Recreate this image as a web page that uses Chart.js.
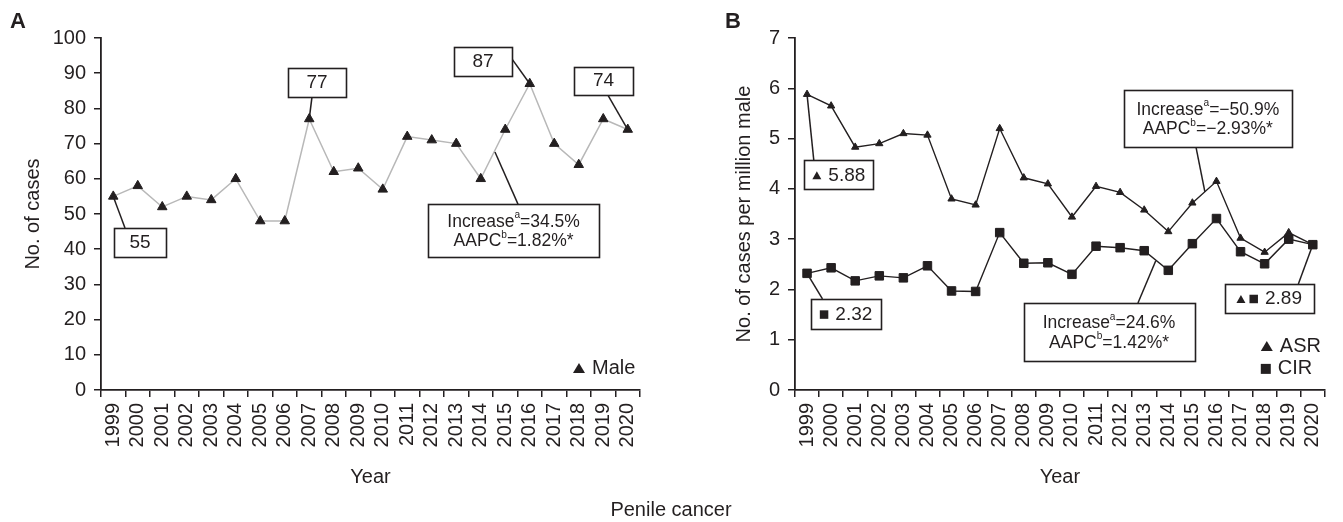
<!DOCTYPE html>
<html><head><meta charset="utf-8">
<script src="https://cdn.jsdelivr.net/npm/chart.js@4.4.1/dist/chart.umd.min.js"></script>
<style>
html,body{margin:0;padding:0;background:#fff;}
#wrap{position:relative;width:1343px;height:522px;overflow:hidden;background:#fff;}
canvas{position:absolute;left:0;top:0;}
</style></head><body>
<div id="wrap"><canvas id="cA" width="1343" height="522"></canvas><canvas id="cB" width="1343" height="522"></canvas></div>
<script>
// ---- data ----
const years = ['1999','2000','2001','2002','2003','2004','2005','2006','2007','2008','2009','2010','2011','2012','2013','2014','2015','2016','2017','2018','2019','2020'];
const maleCases = [55,58,52,55,54,60,48,48,77,62,63,57,72,71,70,60,74,87,70,64,77,74];
const asrRates = [5.88,5.65,4.83,4.90,5.10,5.07,3.80,3.68,5.20,4.22,4.10,3.44,4.05,3.93,3.58,3.15,3.72,4.15,3.02,2.74,3.13,2.89];
const cirRates = [2.32,2.43,2.17,2.27,2.23,2.47,1.97,1.96,3.13,2.52,2.53,2.30,2.86,2.83,2.77,2.38,2.91,3.41,2.75,2.51,3.00,2.89];
const seriesNames = ['Male','ASR','CIR'];
const trendA = ['=34.5%','=1.82%*'];
const trendASR = ['=\u221250.9%','=\u22122.93%*'];
const trendCIR = ['=24.6%','=1.42%*'];

// ---- styling ----
const INK = '#231f20';
const FAM = "'Liberation Sans', Arial, sans-serif";
Chart.defaults.font.family = FAM;
Chart.defaults.color = INK;

function scalesFor(yMax, step, yTitle, yWidth, yTitlePad){
  return {
    x:{type:'category', offset:true,
      grid:{display:true, offset:true, drawOnChartArea:false, drawTicks:true, tickLength:7, color:INK, lineWidth:1.5},
      border:{display:true, color:INK, width:1.8},
      ticks:{autoSkip:false, maxRotation:90, minRotation:90, padding:6, font:{size:20}, color:INK},
      title:{display:true, text:'Year', font:{size:20}, color:INK, padding:{top:0, bottom:33}},
      afterFit(s){ s.height = 132; }
    },
    y:{min:0, max:yMax,
      ticks:{stepSize:step, padding:8, font:{size:20}, color:INK},
      grid:{drawOnChartArea:false, drawTicks:true, tickLength:7, color:INK, lineWidth:1.5},
      border:{display:true, color:INK, width:1.8},
      title:{display:true, text:yTitle, font:{size:20}, color:INK, padding:{top:yTitlePad, bottom:0}},
      afterFit(s){ s.width = yWidth; }
    }
  };
}

function shapePath(ctx, kind, x, y, w, h){
  ctx.beginPath();
  if(kind==='tri'){ ctx.moveTo(x, y-h/2); ctx.lineTo(x+w/2, y+h/2); ctx.lineTo(x-w/2, y+h/2); ctx.closePath(); }
  else { ctx.rect(x-w/2, y-h/2, w, h); }
  ctx.fillStyle = INK; ctx.fill();
}

function segWidth(ctx, segs, fs){
  let w = 0;
  segs.forEach((s, k)=>{
    if(s.shape){ w += s.w + (segs[k+1] && segs[k+1].shape ? 4 : 7); }
    else { ctx.font = (s.sup ? fs*0.58 : fs) + 'px ' + FAM; w += ctx.measureText(s.t).width; }
  });
  return w;
}
function drawSegs(ctx, segs, x, y, fs){
  let cx = x;
  segs.forEach((s, k)=>{
    if(s.shape){ shapePath(ctx, s.shape, cx + s.w/2, y, s.w, s.h); cx += s.w + (segs[k+1] && segs[k+1].shape ? 4 : 7); }
    else {
      ctx.font = (s.sup ? fs*0.58 : fs) + 'px ' + FAM;
      ctx.fillStyle = INK; ctx.textAlign = 'left'; ctx.textBaseline = 'middle';
      ctx.fillText(s.t, cx, s.sup ? y - fs*0.36 : y);
      cx += ctx.measureText(s.t).width;
    }
  });
}

function notesPlugin(cfg){
  return {
    id:'notes_' + cfg.id,
    afterDraw(chart){
      const ctx = chart.ctx, xs = chart.scales.x, ys = chart.scales.y;
      const P = (i, v) => ({x: xs.getPixelForValue(i), y: ys.getPixelForValue(v)});
      ctx.save();
      cfg.notes.forEach(n=>{
        const a = P(n.from[0], n.from[1]), b = P(n.to[0], n.to[1]);
        ctx.beginPath(); ctx.moveTo(a.x, a.y); ctx.lineTo(b.x, b.y);
        ctx.strokeStyle = INK; ctx.lineWidth = 1.5; ctx.stroke();
      });
      cfg.notes.forEach(n=>{
        const c = P(n.cx, n.cy);
        const l = Math.round(c.x - n.w/2) + 0.5, t = Math.round(c.y - n.h/2) + 0.5;
        ctx.fillStyle = '#fff'; ctx.fillRect(l, t, n.w, n.h);
        ctx.strokeStyle = INK; ctx.lineWidth = 1.6; ctx.strokeRect(l, t, n.w, n.h);
        const fs = n.fs || 19;
        const gap = n.rows.length > 1 ? 19.5 : 0;
        n.rows.forEach((r, k)=>{
          const w = segWidth(ctx, r, fs);
          const yy = c.y + (k - (n.rows.length-1)/2) * gap + (n.rows.length > 1 ? 1 : 0.5);
          drawSegs(ctx, r, c.x - w/2, yy, fs);
        });
      });
      cfg.legend.forEach(g=>{
        const c = P(g.i, g.v);
        drawSegs(ctx, [{shape:g.shape, w:g.shape==='tri'?12:10, h:g.shape==='tri'?10:10}, {t:g.t}], c.x - 6, c.y, 20);
      });
      (cfg.texts || []).forEach(tx=>{
        ctx.font = tx.font; ctx.fillStyle = INK; ctx.textAlign = 'center'; ctx.textBaseline = 'middle';
        ctx.fillText(tx.t, tx.x, tx.y);
      });
      ctx.restore();
    }
  };
}

const TRI = {shape:'tri', w:9, h:8}, SQ = {shape:'sq', w:8.5, h:8.5};
const sup = s => ({t:s, sup:true});

const cfgA = {
  id:'A',
  notes:[
    {rows:[[{t:String(maleCases[0])}]], cx:1.09, cy:41.9, w:52, h:29, from:[0, maleCases[0]], to:[0.48, 46.0]},
    {rows:[[{t:String(maleCases[8])}]], cx:8.32, cy:87.4, w:58, h:29, from:[8, maleCases[8]], to:[8.11, 83.2]},
    {rows:[[{t:String(maleCases[17])}]], cx:15.09, cy:93.3, w:58, h:29, from:[17, maleCases[17]], to:[16.28, 94.0]},
    {rows:[[{t:String(maleCases[21])}]], cx:20.01, cy:87.9, w:59, h:28, from:[21, maleCases[21]], to:[20.19, 83.8]},
    {rows:[[{t:'Increase'}, sup('a'), {t:trendA[0]}], [{t:'AAPC'}, sup('b'), {t:trendA[1]}]], fs:17.5,
      cx:16.34, cy:45.3, w:171, h:53, from:[15.58, 67.6], to:[16.52, 52.8]}
  ],
  legend:[{shape:'tri', t:seriesNames[0], i:19.01, v:6.25}],
  texts:[
    {t:'A', x:18, y:22, font:'bold 22px ' + FAM},
    {t:'Penile cancer', x:671, y:510, font:'20px ' + FAM}
  ]
};

const cfgB = {
  id:'B',
  notes:[
    {rows:[[TRI, {t:asrRates[0].toFixed(2)}]], cx:1.32, cy:4.28, w:69, h:29, from:[0, asrRates[0]], to:[0.28, 4.57]},
    {rows:[[SQ, {t:cirRates[0].toFixed(2)}]], cx:1.62, cy:1.51, w:70, h:30, from:[0, cirRates[0]], to:[0.64, 1.81]},
    {rows:[[{t:'Increase'}, sup('a'), {t:trendASR[0]}], [{t:'AAPC'}, sup('b'), {t:trendASR[1]}]], fs:17.5,
      cx:16.64, cy:5.40, w:168, h:57, from:[16.52, 3.94], to:[16.15, 4.83]},
    {rows:[[{t:'Increase'}, sup('a'), {t:trendCIR[0]}], [{t:'AAPC'}, sup('b'), {t:trendCIR[1]}]], fs:17.5,
      cx:12.54, cy:1.15, w:171, h:58, from:[14.48, 2.57], to:[13.74, 1.73]},
    {rows:[[TRI, SQ, {t:cirRates[21].toFixed(2)}]], cx:19.19, cy:1.82, w:89, h:29, from:[21, cirRates[21]], to:[20.4, 2.11]}
  ],
  legend:[
    {shape:'tri', t:seriesNames[1], i:19.09, v:0.875},
    {shape:'sq', t:seriesNames[2], i:19.09, v:0.42}
  ],
  texts:[{t:'B', x:733, y:22, font:'bold 22px ' + FAM}]
};

new Chart(document.getElementById('cA'), {
  type:'line',
  data:{labels:years, datasets:[{label:seriesNames[0], data:maleCases, borderColor:'#b8b8b8', borderWidth:1.5, tension:0,
    pointStyle:'triangle', pointRadius:5.5, pointBackgroundColor:INK, pointBorderColor:INK, pointBorderWidth:1}]},
  options:{responsive:false, animation:false, devicePixelRatio:1,
    layout:{padding:{left:0, top:38, right:703, bottom:0}},
    plugins:{legend:{display:false}, tooltip:{enabled:false}},
    scales:scalesFor(100, 10, 'No. of cases', 101, 21)},
  plugins:[notesPlugin(cfgA)]
});

new Chart(document.getElementById('cB'), {
  type:'line',
  data:{labels:years, datasets:[
    {label:seriesNames[1], data:asrRates, order:1, borderColor:INK, borderWidth:1.4, tension:0,
      pointStyle:'triangle', pointRadius:4.2, pointBackgroundColor:INK, pointBorderColor:INK, pointBorderWidth:1},
    {label:seriesNames[2], data:cirRates, order:0, borderColor:INK, borderWidth:1.4, tension:0,
      pointStyle:'rect', pointRadius:6, pointBackgroundColor:INK, pointBorderColor:INK, pointBorderWidth:1}
  ]},
  options:{responsive:false, animation:false, devicePixelRatio:1,
    layout:{padding:{left:700, top:38, right:9, bottom:0}},
    plugins:{legend:{display:false}, tooltip:{enabled:false}},
    scales:scalesFor(7, 1, 'No. of cases per million male', 95, 32)},
  plugins:[notesPlugin(cfgB)]
});
</script>
</body></html>
